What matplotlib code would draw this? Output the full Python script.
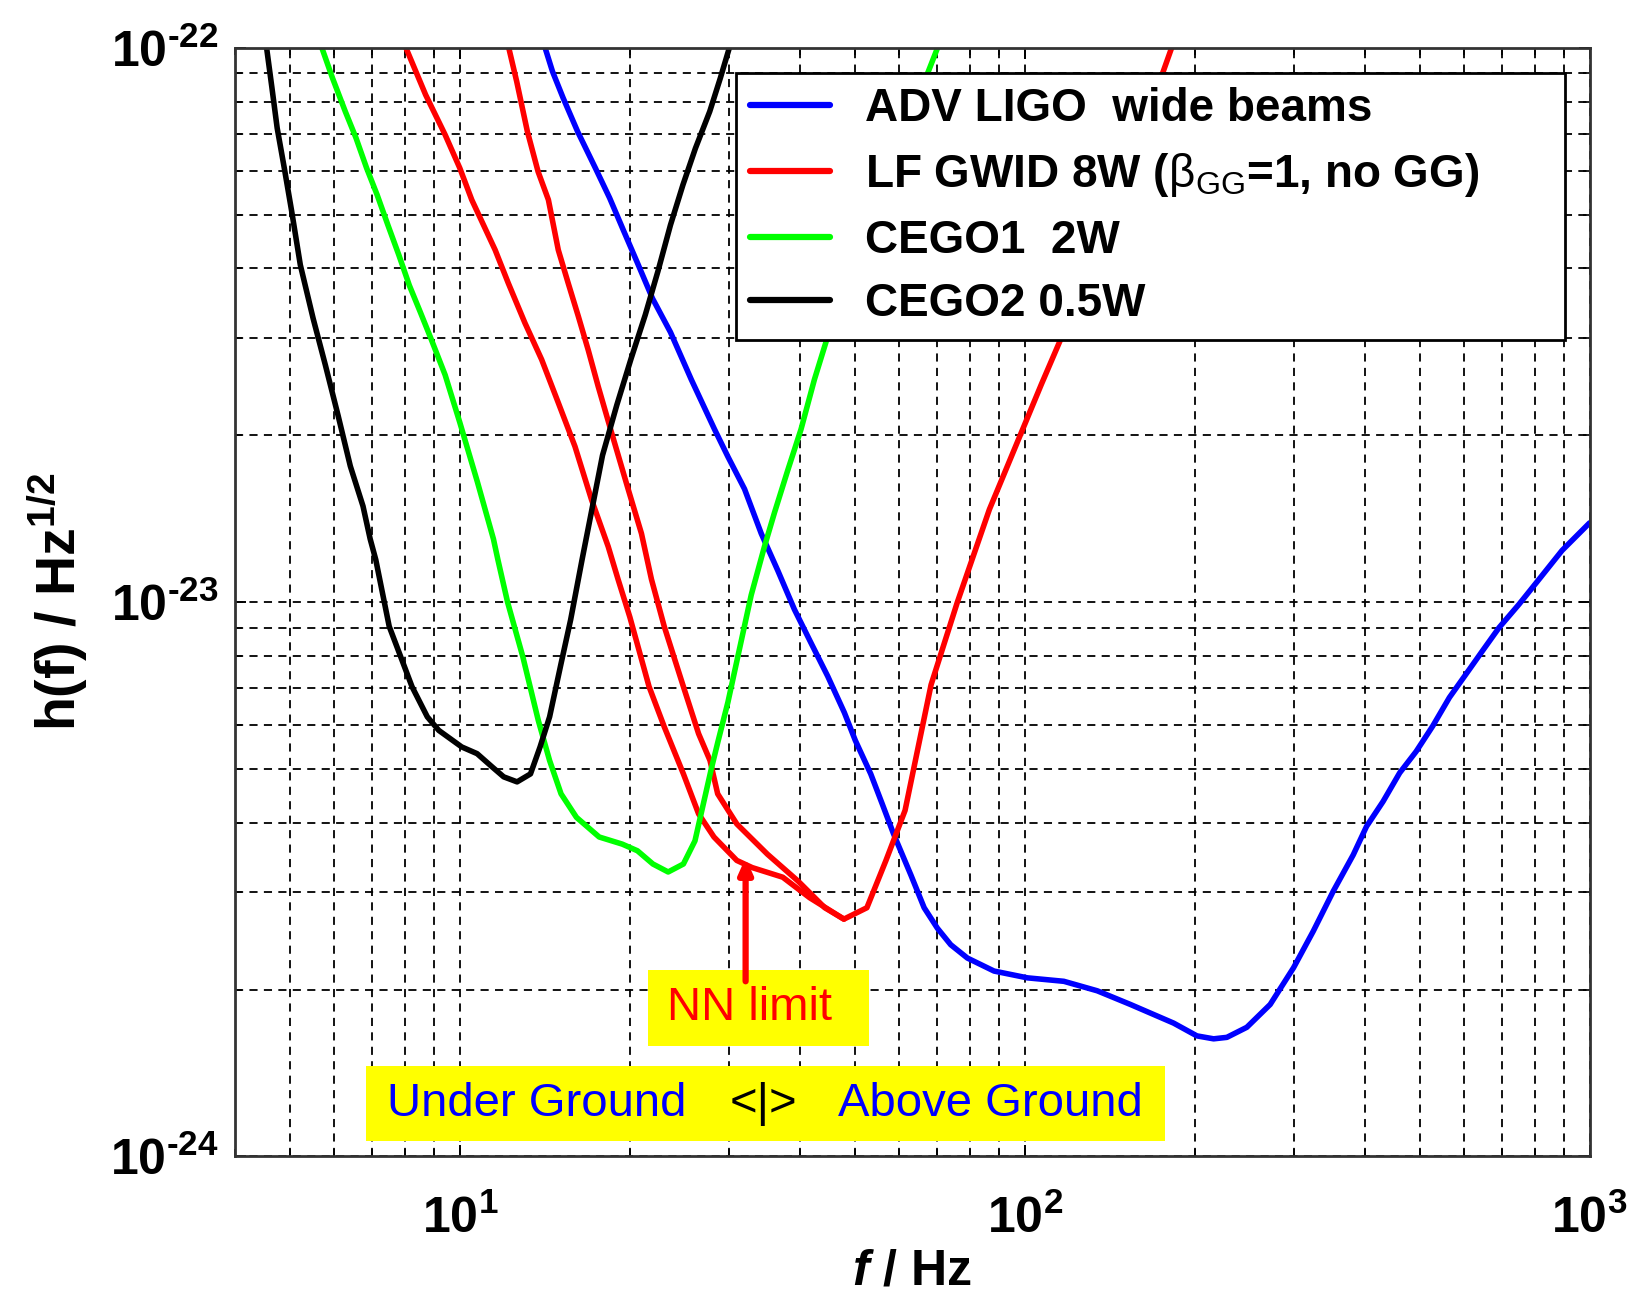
import matplotlib
matplotlib.use("Agg")
import matplotlib.pyplot as plt
from matplotlib.patches import Rectangle
from matplotlib.ticker import LogLocator, FixedLocator, NullFormatter

plt.rcParams['font.family'] = ['Liberation Sans', 'DejaVu Sans']
plt.rcParams['mathtext.fontset'] = 'custom'
plt.rcParams['mathtext.rm'] = 'Liberation Sans:bold'
plt.rcParams['mathtext.it'] = 'Liberation Sans:italic:bold'
plt.rcParams['mathtext.bf'] = 'Liberation Sans:bold'
plt.rcParams['mathtext.sf'] = 'Liberation Sans'

# ADV LIGO wide beams
ligo_f = [14.16, 14.59, 15.24, 16.16, 17.38, 18.42, 19.53, 20.70, 21.94, 23.60, 25.70, 28.25, 29.83, 31.92,
          34.17, 36.56, 39.12, 41.86, 44.81, 47.95, 50.14, 53.39, 55.93, 58.59, 62.88, 66.38, 70.07, 73.97,
          79.17, 88.27, 101.1, 117.3, 134.4, 153.9, 183.5, 201.8, 216, 228, 247.3, 272, 299.2, 324.3, 351.8,
          381.6, 402.9, 431.0, 461.1, 493.3, 527.8, 564.8, 604.0, 646.3, 691.7, 749.9, 802.4, 894.1, 1000]
ligo_h = [1e-22, 9.07e-23, 8.12e-23, 7.07e-23, 6.07e-23, 5.36e-23, 4.66e-23, 4.06e-23, 3.53e-23, 3.07e-23,
          2.52e-23, 2.05e-23, 1.83e-23, 1.60e-23, 1.33e-23, 1.14e-23, 9.70e-24, 8.44e-24, 7.35e-24, 6.32e-24,
          5.63e-24, 4.90e-24, 4.33e-24, 3.82e-24, 3.22e-24, 2.81e-24, 2.58e-24, 2.41e-24, 2.28e-24, 2.16e-24,
          2.10e-24, 2.07e-24, 1.99e-24, 1.88e-24, 1.74e-24, 1.65e-24, 1.63e-24, 1.64e-24, 1.71e-24, 1.88e-24,
          2.19e-24, 2.55e-24, 3.01e-24, 3.50e-24, 3.94e-24, 4.37e-24, 4.92e-24, 5.38e-24, 5.98e-24, 6.73e-24,
          7.41e-24, 8.17e-24, 9.00e-24, 9.91e-24, 1.08e-23, 1.24e-23, 1.39e-23]

# LF GWID 8W
lf_f = [8.03, 8.70, 9.42, 10.0, 10.50, 11.55, 12.19, 13.04, 13.96, 14.94, 15.99, 17.11, 18.31, 19.06, 20.0,
        21.63, 23.01, 24.88, 26.47, 28.18, 30.93, 32.93, 37.30, 41.61, 47.86, 52.56, 56.81, 61.41, 68.29,
        76.0, 86.6, 107, 138, 182]
lf_h = [1e-22, 8.23e-23, 6.97e-23, 6.07e-23, 5.32e-23, 4.32e-23, 3.76e-23, 3.19e-23, 2.74e-23, 2.29e-23,
        1.91e-23, 1.53e-23, 1.26e-23, 1.10e-23, 9.4e-24, 7.04e-24, 5.96e-24, 4.90e-24, 4.15e-24, 3.77e-24,
        3.42e-24, 3.32e-24, 3.19e-24, 2.93e-24, 2.68e-24, 2.81e-24, 3.42e-24, 4.21e-24, 7.1e-24, 1.0e-23,
        1.47e-23, 2.47e-23, 4.52e-23, 1e-22]
# second red branch
lf2_f = [12.21, 12.61, 13.17, 13.76, 14.35, 14.94, 15.56, 16.21, 16.88, 17.58, 18.57, 19.86, 20.97, 21.84,
         23.01, 24.88, 26.47, 27.73, 28.61, 30.93, 35.04, 39.69, 44.27, 47.86]
lf2_h = [1e-22, 8.70e-23, 7.07e-23, 5.98e-23, 5.32e-23, 4.32e-23, 3.76e-23, 3.28e-23, 2.85e-23, 2.45e-23,
         2.02e-23, 1.60e-23, 1.33e-23, 1.10e-23, 9.04e-24, 7.04e-24, 5.79e-24, 5.18e-24, 4.51e-24, 3.98e-24,
         3.51e-24, 3.14e-24, 2.81e-24, 2.68e-24]

# CEGO1 2W
c1_f = [5.70, 5.95, 6.27, 6.55, 6.84, 7.14, 7.46, 7.80, 8.14, 8.51, 8.89, 9.42, 10.0, 10.74, 11.47, 11.68,
        12.15, 12.93, 13.77, 14.42, 15.11, 16.09, 17.65, 19.39, 20.63, 21.97, 23.38, 24.88, 26.08, 27.87,
        28.64, 29.83, 31.07, 32.80, 34.62, 36.06, 38.07, 40.18, 42.43, 45.0, 54.3, 70.1]
c1_h = [1e-22, 8.83e-23, 7.68e-23, 6.88e-23, 6.07e-23, 5.43e-23, 4.79e-23, 4.23e-23, 3.73e-23, 3.34e-23,
        2.99e-23, 2.57e-23, 2.11e-23, 1.65e-23, 1.30e-23, 1.193e-23, 1e-23, 7.97e-24, 6.12e-24, 5.18e-24,
        4.51e-24, 4.09e-24, 3.77e-24, 3.66e-24, 3.56e-24, 3.37e-24, 3.26e-24, 3.37e-24, 3.71e-24, 5.0e-24,
        5.6e-24, 6.6e-24, 7.99e-24, 1.03e-23, 1.26e-23, 1.45e-23, 1.73e-23, 2.05e-23, 2.52e-23, 3.06e-23,
        5.14e-23, 1e-22]

# CEGO2 0.5W
c2_f = [4.55, 4.65, 4.75, 4.89, 5.04, 5.22, 5.50, 5.78, 6.09, 6.40, 6.74, 6.94, 7.10, 7.50, 7.86, 8.23,
        8.76, 9.18, 10.08, 10.73, 11.42, 11.96, 12.63, 13.34, 13.87, 14.42, 15.11, 15.71, 16.46, 17.89,
        18.97, 20.10, 21.30, 22.42, 23.60, 24.83, 26.13, 27.70, 28.93, 30.0]
c2_h = [1e-22, 8.47e-23, 7.17e-23, 6.07e-23, 5.07e-23, 4.06e-23, 3.25e-23, 2.68e-23, 2.17e-23, 1.76e-23,
        1.49e-23, 1.30e-23, 1.193e-23, 9.04e-24, 7.97e-24, 7.04e-24, 6.21e-24, 5.87e-24, 5.48e-24, 5.33e-24,
        5.04e-24, 4.84e-24, 4.74e-24, 4.90e-24, 5.48e-24, 6.21e-24, 7.75e-24, 9.29e-24, 1.193e-23, 1.84e-23,
        2.27e-23, 2.75e-23, 3.30e-23, 3.95e-23, 4.79e-23, 5.66e-23, 6.59e-23, 7.68e-23, 8.83e-23, 1e-22]

nn_f = 32.06
nn_tail, nn_head = 2.07e-24, 3.46e-24

fig = plt.figure(figsize=(16.32, 12.95), dpi=100)
ax = fig.add_axes([0.144, 0.107, 0.830, 0.856])
ax.set_xscale('log')
ax.set_yscale('log')
ax.set_xlim(4, 1000)
ax.set_ylim(1e-24, 1e-22)

kw = dict(lw=4.0, solid_joinstyle='round', solid_capstyle='round')
ax.plot(ligo_f, ligo_h, color='#0000ff', label='ADV LIGO  wide beams', **kw)
ax.plot(lf_f, lf_h, color='#ff0000', label=r'LF GWID 8W ($\mathsf{\beta_{GG}}$=1, no GG)', **kw)
ax.plot(lf2_f, lf2_h, color='#ff0000', **kw)
ax.plot(c1_f, c1_h, color='#00ff00', label='CEGO1  2W', **kw)
ax.plot(c2_f, c2_h, color='black', label='CEGO2 0.5W', **kw)

ax.xaxis.set_major_locator(FixedLocator([10, 100, 1000]))
ax.xaxis.set_minor_locator(LogLocator(base=10, subs=range(2, 10), numticks=20))
ax.yaxis.set_major_locator(FixedLocator([1e-24, 1e-23, 1e-22]))
ax.yaxis.set_minor_locator(LogLocator(base=10, subs=range(2, 10), numticks=20))
ax.xaxis.set_minor_formatter(NullFormatter())
ax.yaxis.set_minor_formatter(NullFormatter())
ax.set_xticklabels([r'$\mathrm{10^{1}}$', r'$\mathrm{10^{2}}$', r'$\mathrm{10^{3}}$'])
ax.set_yticklabels([r'$\mathrm{10^{\text{-24}}}$', r'$\mathrm{10^{\text{-23}}}$', r'$\mathrm{10^{\text{-22}}}$'])
ax.tick_params(which='both', direction='in', top=True, right=True, labelsize=36, color='black')
ax.tick_params(which='major', length=8, width=1.4)
ax.tick_params(which='minor', length=5, width=1.2)
ax.tick_params(axis='y', which='major', pad=12)
ax.tick_params(axis='x', which='major', pad=28)

ax.grid(which='both', color='black', linestyle=(0, (4.5, 3.5)), linewidth=1.3)
for s in ax.spines.values():
    s.set_linewidth(2)
    s.set_color('#333333')

ax.set_xlabel(r'$\mathit{f}$ / Hz', fontsize=36, fontweight='bold', va='top')
ax.xaxis.set_label_coords(0.5, -0.083)
ax.set_ylabel(r'h(f) / Hz$^{\mathrm{1/2}}$', fontsize=40, fontweight='bold', va='center')
ax.yaxis.set_label_coords(-0.131, 0.5)

leg = ax.legend(loc='upper left', bbox_to_anchor=(0.37, 0.739, 0.612, 0.238), mode='expand',
                prop={'weight': 'bold', 'size': 33}, frameon=True, fancybox=False,
                framealpha=1, edgecolor='black', handlelength=1.75, handletextpad=0.75,
                labelspacing=0.43, borderpad=0.3, borderaxespad=0)
leg.get_frame().set_linewidth(2)
for h in leg.get_lines():
    h.set_linewidth(4.5)

# NN limit annotation
ax.add_patch(Rectangle((0.305, 0.100), 0.163, 0.068, transform=ax.transAxes,
                       facecolor='#ffff00', edgecolor='none', zorder=4))
ax.text(0.380, 0.134, 'NN limit', transform=ax.transAxes, color='#ff0000', fontsize=34,
        ha='center', va='center', zorder=5)
ax.annotate('', xy=(nn_f, nn_head), xytext=(nn_f, nn_tail),
            arrowprops=dict(arrowstyle='-|>,head_length=0.9,head_width=0.4', color='#ff0000',
                            lw=4.5, shrinkA=0, shrinkB=0), zorder=6)

# Under / Above ground band
ax.add_patch(Rectangle((0.0967, 0.0135), 0.590, 0.0677, transform=ax.transAxes,
                       facecolor='#ffff00', edgecolor='none', zorder=4))
ax.text(0.223, 0.047, 'Under Ground', transform=ax.transAxes, color='#0000ff', fontsize=34,
        ha='center', va='center', zorder=5)
ax.text(0.390, 0.047, '<|>', transform=ax.transAxes, color='black', fontsize=34,
        ha='center', va='center', zorder=5)
ax.text(0.558, 0.047, 'Above Ground', transform=ax.transAxes, color='#0000ff', fontsize=34,
        ha='center', va='center', zorder=5)

fig.savefig('out.png', dpi=100)
